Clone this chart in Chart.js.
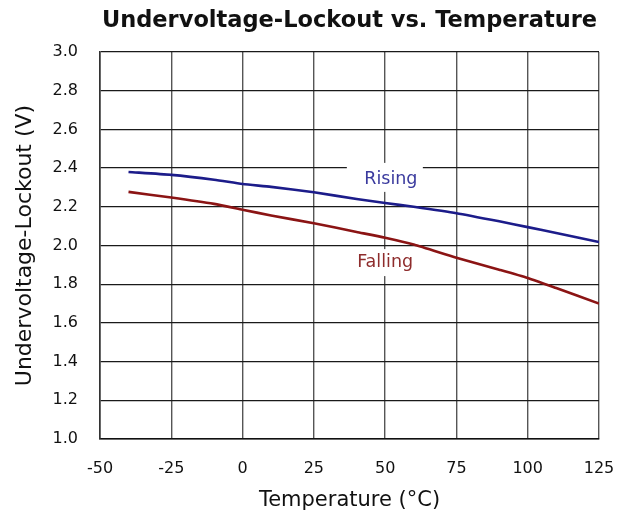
<!DOCTYPE html>
<html>
<head>
<meta charset="utf-8">
<script src="https://cdn.jsdelivr.net/npm/chart.js@4.4.1/dist/chart.umd.min.js"></script>
<style>
  html, body { margin: 0; padding: 0; background: #ffffff; }
  #wrap { width: 632px; height: 518px; position: relative; }
</style>
</head>
<body>
<div id="wrap"><canvas id="c" width="632" height="518"></canvas></div>
<script>
// ---- data ----
const temperatures = [-40, -25, -10, 0, 10, 25, 40, 50, 60, 75, 90, 100, 110, 125];
const risingUVLO   = [2.380, 2.365, 2.340, 2.318, 2.303, 2.275, 2.240, 2.220, 2.200, 2.167, 2.125, 2.095, 2.065, 2.018];
const fallingUVLO  = [2.277, 2.248, 2.215, 2.185, 2.155, 2.115, 2.070, 2.040, 2.005, 1.937, 1.875, 1.832, 1.780, 1.700];
const xTickValues  = [-50, -25, 0, 25, 50, 75, 100, 125];
const yTickValues  = [1.0, 1.2, 1.4, 1.6, 1.8, 2.0, 2.2, 2.4, 2.6, 2.8, 3.0];
const seriesNames  = ['Rising', 'Falling'];
// label anchor points in data units
const labelTemps   = [52, 50];
const labelVolts   = [2.352, 1.922];

const risingColor = '#1c1c8a';
const fallingColor = '#8b1414';
const risingTextColor = '#3a3a9e';
const fallingTextColor = '#8e2c2c';

function toPoints(xs, ys) { return xs.map((x, i) => ({ x: x, y: ys[i] })); }

const inlineLabels = {
  id: 'inlineLabels',
  afterDatasetsDraw(chart) {
    const { ctx, scales } = chart;
    const colors = [risingTextColor, fallingTextColor];
    const boxes = [{ w: 76, h: 29, dx: -6, dy: 0 }, { w: 70, h: 27, dx: 0, dy: 2 }];
    ctx.save();
    const fs = 17.5;
    ctx.font = fs + 'px "DejaVu Sans"';
    ctx.textAlign = 'center';
    ctx.textBaseline = 'alphabetic';
    seriesNames.forEach((name, i) => {
      const px = scales.x.getPixelForValue(labelTemps[i]);
      const py = scales.y.getPixelForValue(labelVolts[i]);
      const b = boxes[i];
      ctx.fillStyle = '#ffffff';
      ctx.fillRect(px + b.dx - b.w / 2, py + b.dy - b.h / 2, b.w, b.h);
      ctx.fillStyle = colors[i];
      ctx.fillText(name, px, py + 0.36 * fs);
    });
    ctx.restore();
  }
};

new Chart(document.getElementById('c'), {
  type: 'line',
  data: {
    datasets: [
      {
        label: seriesNames[0],
        data: toPoints(temperatures, risingUVLO),
        borderColor: risingColor,
        borderWidth: 2.6,
        pointRadius: 0,
        tension: 0.2,
        fill: false
      },
      {
        label: seriesNames[1],
        data: toPoints(temperatures, fallingUVLO),
        borderColor: fallingColor,
        borderWidth: 2.6,
        pointRadius: 0,
        tension: 0.2,
        fill: false
      }
    ]
  },
  options: {
    responsive: false,
    animation: false,
    devicePixelRatio: 1,
    layout: { padding: { left: 0, right: 33, top: 0, bottom: 0 } },
    plugins: {
      legend: { display: false },
      tooltip: { enabled: false },
      title: {
        display: true,
        fullSize: false,
        text: 'Undervoltage-Lockout vs. Temperature',
        color: '#111111',
        font: { family: '"DejaVu Sans"', size: 22.5, weight: 'bold' },
        padding: { top: 8, bottom: 17 }
      }
    },
    scales: {
      x: {
        type: 'linear',
        min: -50,
        max: 125,
        afterBuildTicks(scale) { scale.ticks = xTickValues.map(v => ({ value: v })); },
        afterFit(scale) { scale.height = 79; scale.paddingLeft = 0; scale.paddingRight = 0; },
        ticks: {
          color: '#111111',
          font: { family: '"DejaVu Sans"', size: 16 },
          padding: 20,
          maxRotation: 0,
          autoSkip: false,
          callback: v => String(v)
        },
        grid: { color: '#555555', lineWidth: 1.4, drawTicks: false },
        border: { color: '#111111', width: 1.6 },
        title: {
          display: true,
          text: 'Temperature (°C)',
          color: '#111111',
          font: { family: '"DejaVu Sans"', size: 21 },
          padding: { top: 0, bottom: 5 }
        }
      },
      y: {
        type: 'linear',
        min: 1.0,
        max: 3.0,
        afterBuildTicks(scale) { scale.ticks = yTickValues.map(v => ({ value: v })); },
        afterFit(scale) { scale.width = 100; },
        ticks: {
          color: '#111111',
          font: { family: '"DejaVu Sans"', size: 16 },
          padding: 22,
          autoSkip: false,
          callback: v => Number(v).toFixed(1)
        },
        grid: { color: '#1a1a1a', lineWidth: 1.3, drawTicks: false },
        border: { color: '#333333', width: 1.6 },
        title: {
          display: true,
          text: 'Undervoltage-Lockout (V)',
          color: '#111111',
          font: { family: '"DejaVu Sans"', size: 22 },
          padding: { top: 12, bottom: 0 }
        }
      }
    }
  },
  plugins: [inlineLabels]
});
</script>
</body>
</html>
